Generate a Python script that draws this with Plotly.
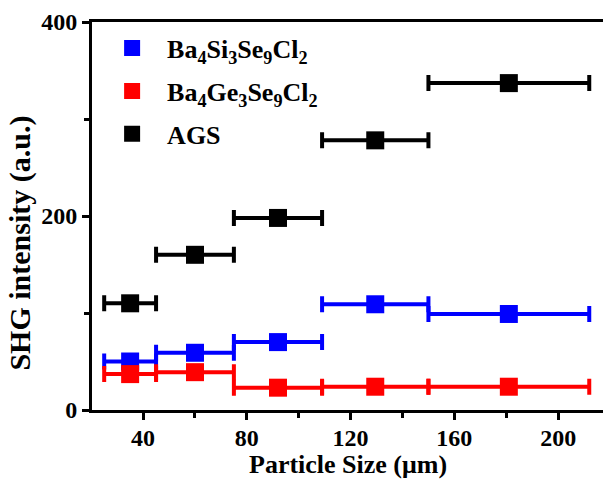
import plotly.graph_objects as go

# Particle size ranges (µm)
size_lo = [25, 45, 75, 109, 150]
size_hi = [45, 75, 109, 150, 212]
size_mid = [35, 60, 92, 129.5, 181]

# SHG intensity (a.u.)
si_vals = [50, 59, 70, 109, 99]
ge_vals = [37, 39, 23, 24, 24]
ags_vals = [110, 160, 198, 278, 337]

names = ["Ba<sub>4</sub>Si<sub>3</sub>Se<sub>9</sub>Cl<sub>2</sub>",
         "Ba<sub>4</sub>Ge<sub>3</sub>Se<sub>9</sub>Cl<sub>2</sub>",
         "AGS"]
colors = ["#0000ff", "#ff0000", "#000000"]
series = [si_vals, ge_vals, ags_vals]

x_ticks = [40, 80, 120, 160, 200]
x_minor = [60, 100, 140, 180]
y_ticks = [0, 200, 400]
y_minor = [100, 300]

err_plus = [h - m for h, m in zip(size_hi, size_mid)]
err_minus = [m - l for m, l in zip(size_mid, size_lo)]

FONT = "Liberation Serif"

fig = go.Figure()
for i, (nm, col, vals) in enumerate(zip(names, colors, series)):
    fig.add_trace(go.Scatter(
        x=size_mid, y=vals, mode="markers", name=nm, legendgroup=f"g{i}",
        marker=dict(symbol="square", size=18, color=col, line=dict(width=0)),
        error_x=dict(type="data", symmetric=False, array=err_plus,
                     arrayminus=err_minus, color=col, thickness=4, width=8),
    ))

fig.update_layout(
    width=603, height=479,
    margin=dict(l=92, r=0, t=22, b=69),
    paper_bgcolor="white", plot_bgcolor="white",
    font=dict(family=FONT, color="black", size=24, weight="bold"),
    showlegend=True,
    legend=dict(x=0.01, y=0.993, xanchor="left", yanchor="top",
                bgcolor="rgba(0,0,0,0)", font=dict(family=FONT, size=26, weight="bold"),
                itemwidth=60, tracegroupgap=6),
    xaxis=dict(range=[20.3, 217.3], tickvals=x_ticks, automargin=False,
               showgrid=False, zeroline=False, showline=True, linecolor="black",
               linewidth=3, mirror=True, ticks="outside", ticklen=7, tickwidth=3,
               tickcolor="black", ticklabelstandoff=-3,
               minor=dict(tickvals=x_minor, ticks="outside", ticklen=5,
                          tickwidth=3, tickcolor="black"),
               tickfont=dict(family=FONT, size=24, weight="bold")),
    yaxis=dict(range=[0, 400], tickvals=y_ticks, automargin=False,
               showgrid=False, zeroline=False, showline=True, linecolor="black",
               linewidth=3, ticks="outside", ticklen=7, tickwidth=3, tickcolor="black",
               minor=dict(tickvals=y_minor, ticks="outside", ticklen=5,
                          tickwidth=3, tickcolor="black"),
               tickfont=dict(family=FONT, size=24, weight="bold")),
    annotations=[
        dict(text="Particle Size (μm)", xref="paper", yref="paper",
             x=0.5, y=-0.14, xanchor="center", yanchor="middle", showarrow=False,
             font=dict(family=FONT, size=26, weight="bold")),
        dict(text="SHG intensity (a.u.)", xref="paper", yref="paper", textangle=-90,
             x=-0.14, y=0.43, xanchor="center", yanchor="middle", showarrow=False,
             font=dict(family=FONT, size=30, weight="bold")),
    ],
)

fig.write_html("out.html", config={"displayModeBar": False},
               post_script="document.body.style.margin='0px';")
